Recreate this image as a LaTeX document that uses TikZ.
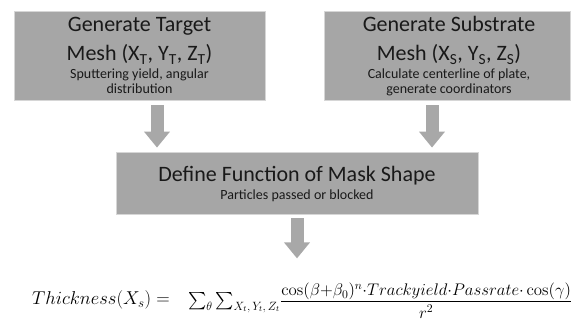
\RequirePackage{fix-cm}
\documentclass[tikz,border=0pt]{standalone}
\usepackage{exscale}
\usepackage[no-math]{fontspec}
\setmainfont{Carlito}
\usetikzlibrary{arrows.meta,calc}
\definecolor{boxgray}{RGB}{166,166,166}
\definecolor{edgegray}{RGB}{214,214,214}
\definecolor{arrgray}{RGB}{168,168,168}
\tikzset{
  box/.style={fill=boxgray, draw=edgegray, line width=0.8pt, inner sep=0pt},
  bigtext/.style={anchor=base, inner sep=0pt, font=\fontsize{22}{26}\selectfont, text=black!90},
  smalltext/.style={anchor=base, inner sep=0pt, font=\fontsize{14}{16}\selectfont, text=black!90},
  blockarrow/.style={draw=arrgray, line width=13pt, -{Triangle[width=25pt,length=16pt]}, arrgray},
  eqpart/.style={anchor=base west, inner sep=0pt, font=\fontsize{16.5}{18}\selectfont}
}
\newcommand{\numsize}{\fontsize{16.8}{18}\selectfont}
\newcommand{\subsize}{\fontsize{12}{13}\selectfont}
\begin{document}
\begin{tikzpicture}[x=1pt,y=1pt]
\useasboundingbox (0,0) rectangle (571,321);
% boxes
\node[box, minimum width=251pt, minimum height=89pt] (b1) at (139.5,265.5) {};
\node[box, minimum width=246pt, minimum height=89pt] (b2) at (447,265.5) {};
\node[box, minimum width=362pt, minimum height=62pt] (b3) at (297,138) {};
% box 1 text
\node[bigtext] (b1l1) at (139.5,289) {Generate Target};
\node[bigtext] (b1l2) at (139.5,260) {Mesh (X\textsubscript{T}, Y\textsubscript{T}, Z\textsubscript{T})};
\node[smalltext] (b1l3) at (139.5,242) {Sputtering yield, angular};
\node[smalltext] (b1l4) at (139.5,227.5) {distribution};
% box 2 text
\node[bigtext] (b2l1) at (449,289) {Generate Substrate};
\node[bigtext] (b2l2) at (449,260) {Mesh (X\textsubscript{S}, Y\textsubscript{S}, Z\textsubscript{S})};
\node[smalltext] (b2l3) at (449,242) {Calculate centerline of plate,};
\node[smalltext] (b2l4) at (449,227.5) {generate coordinators};
% box 3 text
\node[bigtext] (b3l1) at (297,139) {Define Function of Mask Shape};
\node[smalltext] (b3l2) at (297,121) {Particles passed or blocked};
% arrows
\coordinate (a1s) at ($(b1.south)+(17.5,-5)$);
\coordinate (a1e) at ($(b3.north -| a1s)+(0,4)$);
\coordinate (a2s) at ($(b2.south)+(-15,-5)$);
\coordinate (a2e) at ($(b3.north -| a2s)+(0,4)$);
\coordinate (a3s) at ($(b3.south)+(0,-4)$);
\coordinate (a3e) at ($(b3.south)+(0,-44)$);
\draw[blockarrow] (a1s) -- (a1e);
\draw[blockarrow] (a2s) -- (a2e);
\draw[blockarrow] (a3s) -- (a3e);
% formula
\node[eqpart, font=\fontsize{18.6}{20}\selectfont] (eqa) at (32,16) {$Thickness(X_s) =$};
\node[eqpart] (eqb) at (188,16) {$\sum_{\mbox{\subsize$\theta$}}\sum_{\mbox{\subsize$X_t,Y_t,Z_t$}}$};
\node[eqpart] (eqc) at (280,16) {$\frac{\mbox{\numsize$\cos(\beta{+}\beta_0)^n{\cdot}Trackyield{\cdot}Passrate{\cdot}\cos(\gamma)$}}{\mbox{\numsize\raisebox{-8pt}{$r^2$}}}$};
\end{tikzpicture}
\end{document}
